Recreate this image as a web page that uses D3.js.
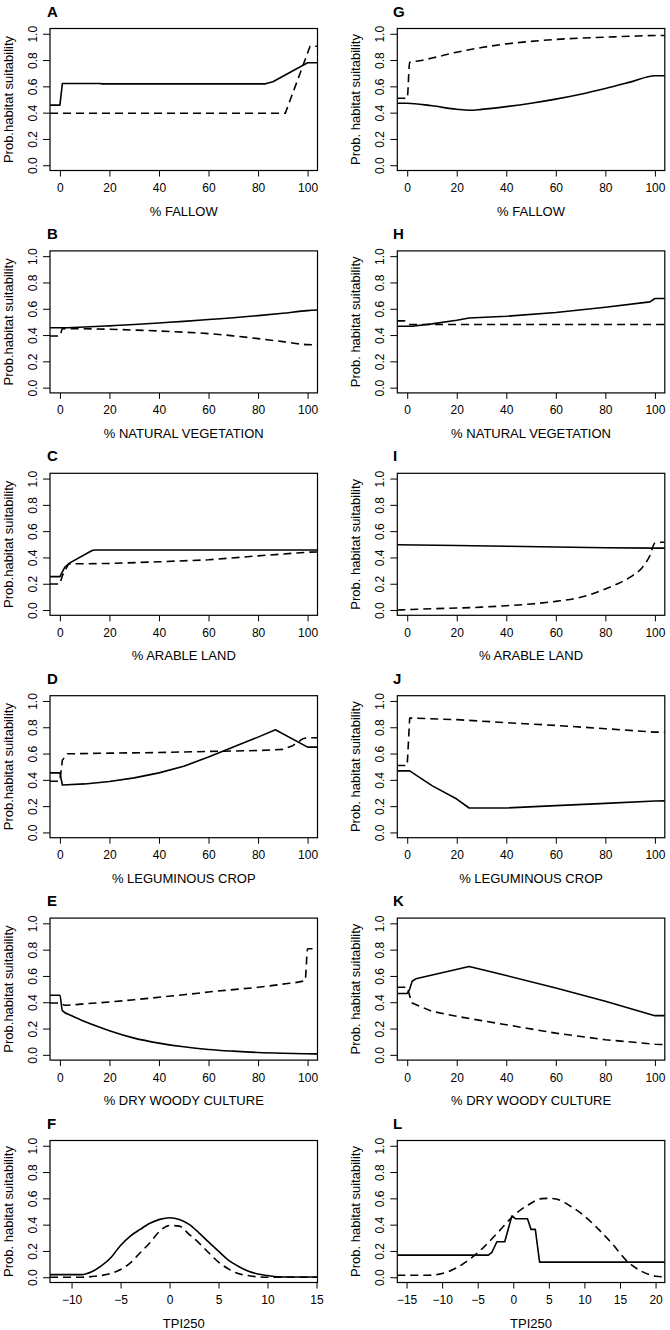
<!DOCTYPE html>
<html>
<head>
<meta charset="utf-8">
<script src="https://cdn.jsdelivr.net/npm/d3@7"></script>
<style>
  html, body { margin: 0; padding: 0; background: #fff; }
  text { font-family: "Liberation Sans", Arial, sans-serif; fill: #000; }
</style>
</head>
<body>
<svg id="chart" width="670" height="1330"></svg>
<script>
// ---------------- data ----------------
const panelLetters = ["A","B","C","D","E","F","G","H","I","J","K","L"];
const xTitles = ["% FALLOW","% NATURAL VEGETATION","% ARABLE LAND","% LEGUMINOUS CROP","% DRY WOODY CULTURE","TPI250",
                 "% FALLOW","% NATURAL VEGETATION","% ARABLE LAND","% LEGUMINOUS CROP","% DRY WOODY CULTURE","TPI250"];
const yTitles = ["Prob.habitat suitability","Prob.habitat suitability","Prob.habitat suitability","Prob.habitat suitability","Prob.habitat suitability","Prob. habitat suitability",
                 "Prob. habitat suitability","Prob. habitat suitability","Prob. habitat suitability","Prob. habitat suitability","Prob. habitat suitability","Prob. habitat suitability"];
const pctTicks = [0, 20, 40, 60, 80, 100];
const tpiTicksF = [-10, -5, 0, 5, 10, 15];
const tpiTicksL = [-15, -10, -5, 0, 5, 10, 15, 20];
const yTicks = [0, 0.2, 0.4, 0.6, 0.8, 1.0];
const pctDomain = [-4, 104];
const tpiDomainF = [-12.2, 15.1];
const tpiDomainL = [-16.3, 21.3];
const yDomain = [-0.04, 1.04];

const solidA = [[-4,0.457],[0,0.457],[1,0.622],[16,0.622],[17,0.619],[83,0.619],[86,0.635],[100,0.78],[104,0.78]];
const dashA  = [[-4,0.395],[91,0.395],[101,0.905],[104,0.905]];
const solidB = [[-4,0.455],[0,0.455],[10,0.461],[20,0.47],[30,0.48],[40,0.492],[50,0.504],[60,0.518],[70,0.532],[80,0.548],[90,0.566],[100,0.586],[104,0.59]];
const dashB  = [[-4,0.393],[0,0.393],[1,0.449],[10,0.448],[20,0.444],[30,0.438],[40,0.431],[50,0.422],[60,0.411],[70,0.394],[80,0.373],[90,0.35],[100,0.327],[104,0.325]];
const solidC = [[-4,0.254],[0,0.254],[2,0.326],[4,0.359],[13,0.453],[14,0.457],[104,0.457]];
const dashC  = [[-4,0.198],[0,0.198],[1,0.262],[3.5,0.351],[20,0.354],[40,0.367],[60,0.382],[80,0.412],[100,0.44],[104,0.442]];
const solidD = [[-4,0.453],[0,0.453],[1,0.361],[10,0.369],[20,0.387],[30,0.415],[40,0.453],[50,0.504],[60,0.573],[70,0.649],[80,0.725],[87,0.781],[100,0.649],[104,0.649]];
const dashD  = [[-4,0.389],[0,0.389],[1,0.55],[3,0.598],[20,0.603],[40,0.608],[60,0.616],[80,0.623],[90,0.632],[94,0.66],[98,0.712],[100,0.72],[104,0.72]];
const solidE = [[-4,0.453],[0,0.453],[1,0.336],[5,0.295],[10,0.254],[15,0.217],[20,0.183],[30,0.127],[40,0.089],[50,0.061],[60,0.041],[70,0.028],[80,0.018],[90,0.012],[100,0.008],[104,0.007]];
const dashE  = [[-4,0.394],[0,0.394],[2,0.377],[10,0.388],[20,0.402],[30,0.419],[40,0.438],[50,0.457],[60,0.478],[70,0.496],[80,0.514],[90,0.538],[99,0.565],[100,0.807],[102,0.807]];
const solidF = [[-12.2,0.02],[-9,0.02],[-8,0.04],[-7,0.084],[-6,0.148],[-5,0.242],[-4,0.313],[-3,0.364],[-2,0.41],[-1,0.44],[0,0.453],[1,0.44],[2,0.402],[3,0.338],[4,0.267],[5,0.198],[6,0.13],[7,0.084],[8,0.048],[9,0.025],[10,0.013],[11,0.003],[12,0.002],[15.1,0.002]];
const dashF  = [[-12.2,0.0],[-9,0.0],[-8,0.005],[-7,0.013],[-6,0.028],[-5,0.059],[-4,0.109],[-3,0.186],[-2,0.262],[-1,0.351],[0,0.394],[1,0.389],[2,0.326],[3,0.262],[4,0.186],[5,0.115],[6,0.064],[7,0.028],[8,0.013],[9,0.003],[10,0.0],[15.1,0.0]];
const solidG = [[-4,0.472],[0,0.472],[10,0.452],[20,0.426],[25,0.418],[30,0.425],[40,0.446],[50,0.472],[60,0.503],[70,0.54],[80,0.584],[90,0.632],[100,0.681],[104,0.681]];
const dashG  = [[-4,0.51],[0,0.51],[1,0.783],[5,0.795],[10,0.815],[20,0.86],[30,0.895],[40,0.923],[50,0.942],[60,0.957],[70,0.967],[80,0.974],[90,0.981],[100,0.987],[104,0.987]];
const solidH = [[-4,0.467],[2,0.467],[10,0.485],[20,0.513],[25,0.53],[40,0.543],[60,0.571],[80,0.612],[98,0.652],[100,0.678],[104,0.678]];
const dashH  = [[-4,0.508],[-1,0.508],[1,0.48],[104,0.48]];
const solidI = [[-4,0.497],[20,0.491],[40,0.485],[60,0.479],[80,0.474],[100,0.471],[104,0.471]];
const dashI  = [[-4,0.0],[0,0.003],[10,0.01],[20,0.015],[30,0.022],[40,0.033],[50,0.046],[60,0.066],[70,0.097],[80,0.16],[85,0.2],[90,0.25],[95,0.326],[98,0.415],[100,0.509],[102,0.516],[104,0.516]];
const solidJ = [[-4,0.468],[1,0.468],[10,0.356],[20,0.254],[25,0.186],[40,0.186],[60,0.204],[80,0.221],[100,0.239],[104,0.24]];
const dashJ  = [[-4,0.509],[0,0.509],[1,0.87],[20,0.858],[40,0.835],[60,0.814],[80,0.789],[100,0.763],[104,0.762]];
const solidK = [[-4,0.466],[0,0.466],[1,0.5],[2,0.56],[3.5,0.578],[25,0.672],[40,0.603],[60,0.509],[80,0.407],[100,0.298],[104,0.298]];
const dashK  = [[-4,0.514],[0,0.514],[1,0.45],[2,0.394],[10,0.331],[20,0.293],[30,0.26],[40,0.229],[60,0.165],[80,0.115],[100,0.081],[104,0.078]];
const solidL = [[-16.3,0.168],[-3.5,0.168],[-3,0.19],[-2.3,0.27],[-1.2,0.27],[-0.2,0.466],[0.3,0.445],[2,0.445],[2.5,0.364],[3.1,0.364],[3.7,0.115],[21.3,0.115]];
const dashL  = [[-16.3,0.015],[-12,0.015],[-10,0.028],[-8,0.071],[-6,0.142],[-4,0.237],[-2,0.35],[0,0.466],[2,0.547],[4,0.598],[5,0.6],[6,0.595],[8,0.542],[10,0.466],[12,0.364],[14,0.249],[16,0.122],[18,0.046],[20,0.008],[21.3,0.003]];

const solidSeries = [solidA, solidB, solidC, solidD, solidE, solidF, solidG, solidH, solidI, solidJ, solidK, solidL];
const dashSeries  = [dashA, dashB, dashC, dashD, dashE, dashF, dashG, dashH, dashI, dashJ, dashK, dashL];
const xTickSets = [pctTicks, pctTicks, pctTicks, pctTicks, pctTicks, tpiTicksF, pctTicks, pctTicks, pctTicks, pctTicks, pctTicks, tpiTicksL];
const xDomains  = [pctDomain, pctDomain, pctDomain, pctDomain, pctDomain, tpiDomainF, pctDomain, pctDomain, pctDomain, pctDomain, pctDomain, tpiDomainL];

// series drawn with a smoothed curve (the rest are polylines with sharp kinks)
const smoothSeries = new Set([solidB, dashB, solidE, dashE, solidF, dashF, solidG, dashG, dashI, dashL]);

// ---------------- layout ----------------
const colLeft = [50, 397.3];
const boxW = 267.5;
const boxH = 142;
const rowPitch = 222.4;
const boxTop = 28.5;

const svg = d3.select("#chart");
svg.append("rect").attr("width", 670).attr("height", 1330).attr("fill", "#fff");

panelLetters.forEach((letter, i) => {
  const col = i < 6 ? 0 : 1;
  const row = i % 6;
  const g = svg.append("g")
    .attr("transform", `translate(${colLeft[col]},${row * rowPitch + boxTop})`);

  const x = d3.scaleLinear().domain(xDomains[i]).range([0, boxW]);
  const y = d3.scaleLinear().domain(yDomain).range([boxH, 0]);

  const clipId = "clip" + i;
  g.append("clipPath").attr("id", clipId)
    .append("rect").attr("x", 0).attr("y", 0).attr("width", boxW).attr("height", boxH);

  // x axis
  const xAxis = g.append("g").attr("transform", `translate(0,${boxH})`)
    .call(d3.axisBottom(x).tickValues(xTickSets[i]).tickSize(6).tickPadding(7).tickFormat(d3.format("d")));
  xAxis.select(".domain").remove();
  xAxis.selectAll("line").attr("stroke", "#000").attr("stroke-width", 1);
  xAxis.selectAll("text").attr("font-size", 12).attr("font-family", "Liberation Sans, Arial, sans-serif").attr("fill", "#111");

  // y axis
  const yAxis = g.append("g")
    .call(d3.axisLeft(y).tickValues(yTicks).tickSize(7).tickFormat(d3.format(".1f")));
  yAxis.select(".domain").remove();
  yAxis.selectAll("line").attr("stroke", "#000").attr("stroke-width", 1);
  yAxis.selectAll("text")
    .attr("x", null).attr("dy", null)
    .attr("transform", "translate(-13,0) rotate(-90)")
    .attr("text-anchor", "middle")
    .attr("font-size", 12).attr("font-family", "Liberation Sans, Arial, sans-serif").attr("fill", "#111");

  // lines
  const lineFor = s => d3.line().x(d => x(d[0])).y(d => y(d[1]))
    .curve(smoothSeries.has(s) ? d3.curveMonotoneX : d3.curveLinear);
  const lines = g.append("g").attr("clip-path", `url(#${clipId})`);
  lines.append("path").datum(dashSeries[i])
    .attr("d", lineFor(dashSeries[i])).attr("fill", "none").attr("stroke", "#000")
    .attr("stroke-width", 1.6).attr("stroke-dasharray", "8,5").attr("stroke-linejoin", "round");
  lines.append("path").datum(solidSeries[i])
    .attr("d", lineFor(solidSeries[i])).attr("fill", "none").attr("stroke", "#000")
    .attr("stroke-width", 1.6).attr("stroke-linejoin", "round");

  // box
  g.append("rect").attr("x", 0).attr("y", 0).attr("width", boxW).attr("height", boxH)
    .attr("fill", "none").attr("stroke", "#000").attr("stroke-width", 1.2);

  // titles
  g.append("text").attr("x", boxW / 2).attr("y", 187)
    .attr("text-anchor", "middle").attr("font-size", 13).attr("fill", "#111")
    .text(xTitles[i]);
  g.append("text")
    .attr("transform", `translate(-37,${boxH / 2}) rotate(-90)`)
    .attr("text-anchor", "middle").attr("font-size", 13).attr("fill", "#111")
    .text(yTitles[i]);
  g.append("text").attr("x", col === 0 ? -3 : -4.3).attr("y", -12)
    .attr("font-size", 15).attr("font-weight", "bold")
    .text(letter);
});
</script>
</body>
</html>
